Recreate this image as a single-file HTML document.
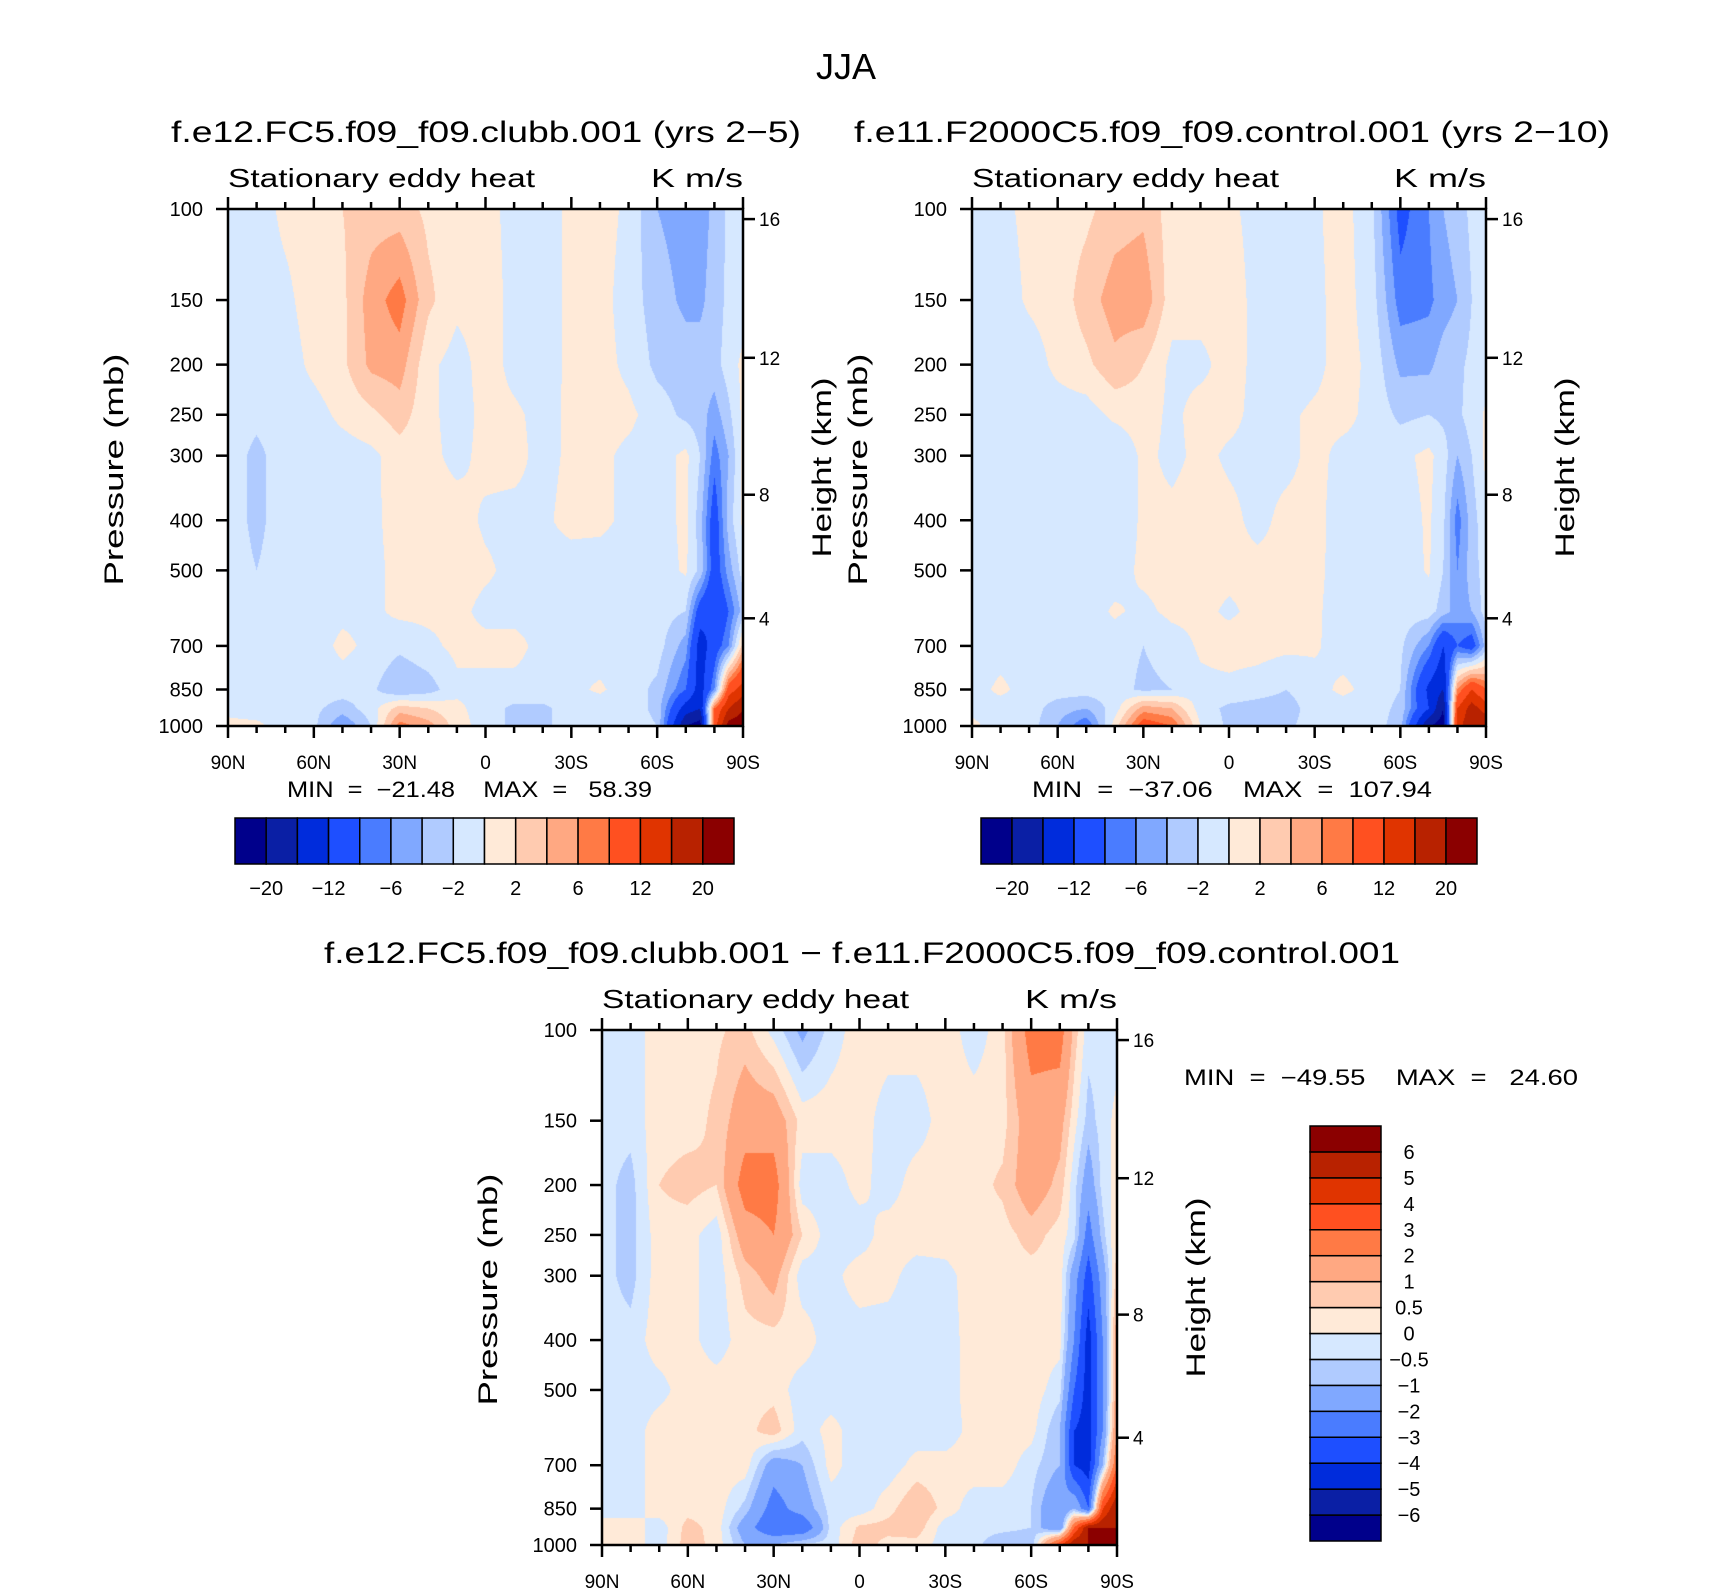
<!DOCTYPE html>
<html><head><meta charset="utf-8">
<style>
html,body{margin:0;padding:0;background:#fff;}
#root{position:relative;width:1710px;height:1591px;overflow:hidden;background:#fff;}
canvas{position:absolute;}
svg{position:absolute;left:0;top:0;}
text{font-family:"Liberation Sans",sans-serif;fill:#000;white-space:pre;}
</style></head>
<body>
<div id="root">
<canvas id="c1"></canvas>
<canvas id="c2"></canvas>
<canvas id="c3"></canvas>
<svg id="s" width="1710" height="1591"></svg>
</div>
<script>
// ---- data ----
const lats=[90,80,70,60,50,40,30,20,10,0,-10,-20,-30,-40,-50,-60,-70,-75,-80,-85,-90];
const pres=[100,150,200,250,300,400,500,600,700,850,925,1000];
const field1=[
[-1,-1,0.5,1,2,3,3,1.5,1,0.5,-0.5,-1,0.5,1,-0.5,-4,-5,-5,-3.5,-1.5,-1],
[-1,-1,-0.5,1,1.5,5,7,2.5,0.5,0.8,-0.5,-1,0.5,0.8,-1,-3,-4.5,-4.5,-3,-1.5,-1],
[-1,-1,-1,0.5,1.5,4.5,5,0.5,-0.8,0.8,-0.5,-1,0.5,0.8,-0.5,-2.5,-3,-3,-2.8,-1,0.5],
[-1,-1.5,-1,-0.8,0.5,1.5,3,0.5,-0.8,0.5,0.3,-0.5,0.3,0.8,0.5,-1,-2.5,-3,-5,-2.5,0.5],
[-1,-2.5,-1,-1,-1,-0.5,1,0.5,-0.5,0.5,0.5,-0.5,0.3,0.5,-0.5,-1,0.5,-2,-7,-4,0.5],
[-1,-2.5,-1,-1,-1,-0.5,0.8,0.8,0.8,-0.3,-0.5,-0.3,0.5,0.5,-0.5,-1,0.5,-3,-10,-3,0.5],
[-1,-2,-1,-1,-1,-0.5,0.5,0.8,0.8,0.3,-0.5,-0.5,-0.8,-1,-1,-1,0.3,-2.5,-10,-5,-1],
[-1,-1.5,-1,-1,-0.5,-0.5,0.5,0.5,0.5,-0.5,-0.5,-0.5,-1,-1,-1,-1,-2,-10,-12,-8,-3],
[-1,-1,-1,-1,0.5,-0.5,-1.5,-0.5,0.5,0.5,0.5,-0.5,-0.5,-1,-1,-1,-5,-14,-10,-6,3],
[-1,-1,-1,-1,-1,-1.5,-4,-3,-0.5,-0.5,-0.5,-0.5,-0.5,0.3,-1,-2.5,-8,-14,-6,10,14],
[-0.5,-1,-1,-1.5,-3,-1,3,2,0.5,-1,-2.5,-2.5,-1,-1,-1,-2.5,-14,-16,8,16,20],
[0.5,0.5,-1,-1.5,-6,-2,7,5,1,-1,-2.5,-2.5,-1,-1,-1,-2,-20,-22,10,22,22]];
const field2=[
[-1,-0.5,0.5,1,1.5,3,3.5,1,1,0.3,-0.5,-1,-0.3,0.8,-1.5,-9,-6,-4,-3,-1.5,-1],
[-1,-1,0.3,0.8,3,5,5.5,0.8,0.8,0.8,-0.5,-1,-0.5,0.8,-1,-7,-6.5,-5,-4,-2,-1],
[-1,-1,-1,0.5,1.5,3.5,2,-0.5,-0.5,0.8,-0.5,-1,-0.5,0.8,-0.5,-4.5,-4.5,-3,-2.5,-1.5,-0.8],
[-1,-1,-1,-1,-1,0.5,1,-0.5,0.8,0.5,-0.5,-0.3,0.3,0.5,-0.5,-2.5,-2,-2.5,-2.5,-1,0.3],
[-1,-2,-1,-1,-1,-2,0.5,-0.5,0.5,-0.3,-0.5,-0.5,0.5,-0.5,-0.5,-0.5,0.5,-1,-4,-2,0.5],
[-1,-2,-1,-1,-1,-2,0.5,0.5,0.8,0.5,-0.5,0.5,0.5,-0.8,-1,-1,0.3,-1.5,-7,-3,-0.5],
[-1,-2,-1,-1,-1,-1,0.5,0.8,0.8,0.5,0.5,0.5,0.3,-0.5,-1,-1,0.2,-2,-6,-3,-1],
[-1,-1,-1,-1,-1,0.3,-0.5,0.5,0.5,-0.3,0.5,0.5,0.3,-0.8,-1,-1,-1,-3,-5,-4,-1],
[-1,-1,-1,-1,-1,-1,-2,-1,0.3,0.8,0.8,0.5,0.3,-1,-1,-1.5,-6,-12,-8,-10,-3],
[-1,0.5,-1,-1,-1,-1,-2.5,-2,-0.5,-0.5,-1,-2,-0.8,0.5,-0.8,-2,-13,-16,6,12,8],
[-0.5,-1,-1,-3,-4,-1,5,4,-1,-2.5,-3,-3,-1,-1,-1,-2.5,-12,-20,12,18,14],
[0.5,-1,-1,-4,-8,1,10,8,0,-2.5,-2.5,-2.5,-1,-1,-1,-3,-20,-22,14,20,20]];
const field3=[
[-0.3,-0.3,0.3,0.3,0.4,0.7,-0.2,-1.2,-0.3,0.3,0.3,0.3,0.3,-0.3,0.3,2.5,2.5,0.8,-0.3,-0.3,-0.3],
[-0.3,-0.3,0.3,0.3,0.6,1.5,1.5,0.3,0.3,0.3,-0.3,-0.3,0.3,0.3,0.3,1.5,1.3,0.2,-0.7,-0.3,0.2],
[-0.3,-0.7,0.5,0.7,0.5,2.5,2.5,-0.3,-0.3,0.2,-0.3,0.3,0.3,0.3,0.6,1.5,0.8,-0.3,-1.5,-0.3,0.2],
[-0.3,-0.7,0.3,0.2,-0.3,1.5,2,0.5,-0.3,-0.3,0.3,0.3,0.3,0.3,0.3,0.7,0.3,-0.3,-2.5,-0.7,0.5],
[-0.3,-0.7,0.3,0.2,-0.3,0.7,1.3,-0.3,-0.2,0.3,0.2,-0.3,-0.2,0.3,0.3,0.3,0.3,-1.5,-3.5,-1.5,0.8],
[-0.3,-0.3,0.3,0.2,-0.3,0.3,0.3,0.3,-0.3,-0.3,-0.3,-0.3,-0.3,0.3,0.3,0.3,0.2,-2,-4.5,-2,1.5],
[-0.3,-0.3,-0.2,0.3,0.3,0.3,0.3,-0.3,-0.3,-0.3,-0.3,-0.5,-0.3,0.3,0.3,0.3,-0.3,-3,-4.5,-2,1.5],
[-0.3,-0.3,0.3,0.3,0.3,0.3,0.8,-0.3,0.2,-0.3,-0.3,-0.3,-0.3,0.2,0.3,0.2,-1,-4,-4.5,-2,2],
[-0.3,-0.3,0.3,0.3,0.3,0.3,-1.5,-1,0.2,-0.3,-0.3,0.2,0.2,0.3,0.3,-0.3,-1,-4,-4.5,-1,3],
[-0.3,-0.3,0.3,0.3,0.3,-0.7,-2.5,-1.5,-0.3,-0.3,0.3,1,0.3,-0.3,-0.3,-0.5,-2,-1,-3,4,6],
[0.3,0.3,-0.3,0.7,0.3,-1.5,-3,-3,-0.3,0.6,0.7,0.8,-0.3,-0.3,-0.3,-0.5,-2,3,6,6,6],
[0.3,0.3,-0.3,0.8,0.3,-1,-1,-0.3,-0.3,0.8,0.3,0.3,-0.3,-0.3,-1,-1,4,6,6,6,6]];
const levelsAbs=[-20,-16,-12,-8,-6,-4,-2,0,2,4,6,8,12,16,20];
const levelsDiff=[-6,-5,-4,-3,-2,-1,-0.5,0,0.5,1,2,3,4,5,6];
const labelsAbs=["−20","−12","−6","−2","2","6","12","20"];
const labelsDiff=["−6","−5","−4","−3","−2","−1","−0.5","0","0.5","1","2","3","4","5","6"];
const colors=["#00008b","#0a1fa5","#002cdc","#1e4fff","#4a7cff","#80a8ff","#b0cbff","#d6e8ff","#ffead8","#ffcbb0","#ffa882","#ff7a45","#ff5020","#e03400","#b82200","#8b0000"];
const pTicks=[100,150,200,250,300,400,500,700,850,1000];
const latTicks=[90,60,30,0,-30,-60,-90];
const latLabels=["90N","60N","30N","0","30S","60S","90S"];
const hTicks=[16,12,8,4];
const hTickP=[104.6,194,357,619];

// ---- helpers ----
const NS="http://www.w3.org/2000/svg";
const svg=document.getElementById('s');
function el(tag,attrs,txt){const e=document.createElementNS(NS,tag);for(const k in attrs)e.setAttribute(k,attrs[k]);if(txt!==undefined)e.textContent=txt;svg.appendChild(e);return e;}
function hex(c){return [parseInt(c.substr(1,2),16),parseInt(c.substr(3,2),16),parseInt(c.substr(5,2),16)];}
const rgb=colors.map(hex);
function bin(v,lv){let i=0;while(i<lv.length&&v>=lv[i])i++;return i;}
const logP=pres.map(p=>Math.log10(p));

function drawField(id,field,lv,L,T,R,B){
  const c=document.getElementById(id);const W=R-L,H=B-T;
  c.width=W;c.height=H;c.style.left=L+'px';c.style.top=T+'px';
  const ctx=c.getContext('2d');const img=ctx.createImageData(W,H);
  for(let j=0;j<H;j++){
    const lp=2+(j+0.5)/H;
    let r=0;while(r<pres.length-2&&lp>logP[r+1])r++;
    const fy=Math.min(1,Math.max(0,(lp-logP[r])/(logP[r+1]-logP[r])));
    for(let i=0;i<W;i++){
      const lat=90-180*(i+0.5)/W;
      let k=0;while(k<lats.length-2&&lat<lats[k+1])k++;
      const fx=Math.min(1,Math.max(0,(lats[k]-lat)/(lats[k]-lats[k+1])));
      const v=(field[r][k]*(1-fx)+field[r][k+1]*fx)*(1-fy)+(field[r+1][k]*(1-fx)+field[r+1][k+1]*fx)*fy;
      const col=rgb[bin(v,lv)];const o=(j*W+i)*4;
      img.data[o]=col[0];img.data[o+1]=col[1];img.data[o+2]=col[2];img.data[o+3]=255;
    }
  }
  ctx.putImageData(img,0,0);
}

function axes(name,L,T,R,B){
  const W=R-L,H=B-T;
  const xOf=lat=>L+(90-lat)/180*W;
  const yOf=p=>T+Math.log10(p/100)*H;
  for(let lat=90;lat>=-90;lat-=10){
    const major=lat%30===0;const len=major?12:7;const x=xOf(lat);
    const t1=el('line',{x1:x,y1:B,x2:x,y2:B+len,stroke:'#000','stroke-width':2.5});
    
    const t2=el('line',{x1:x,y1:T,x2:x,y2:T-len,stroke:'#000','stroke-width':2.5});
    
  }
  latTicks.forEach((lat,i)=>{
    const t=el('text',{x:xOf(lat),y:B+43,'font-size':19,'text-anchor':'middle'},latLabels[i]);
    
  });
  pTicks.forEach(p=>{
    const y=yOf(p);
    const t=el('line',{x1:L-12,y1:y,x2:L,y2:y,stroke:'#000','stroke-width':2.5});
    
    const l=el('text',{x:L-25,y:y+7,'font-size':20,'text-anchor':'end'},String(p));
    
  });
  hTicks.forEach((h,i)=>{
    const y=yOf(hTickP[i]);
    const t=el('line',{x1:R,y1:y,x2:R+12,y2:y,stroke:'#000','stroke-width':2.5});
    
    const l=el('text',{x:R+16,y:y+7,'font-size':19},String(h));
    
  });
  const f=el('rect',{x:L,y:T,width:W,height:H,fill:'none',stroke:'#000','stroke-width':2.5});
  
}

function txt(name,x,y,s,size,anchor,len,rot){
  const a={x:x,y:y,'font-size':size};if(anchor)a['text-anchor']=anchor;
  if(len){a.textLength=len;a.lengthAdjust='spacingAndGlyphs';}
  if(rot)a.transform='rotate(-90 '+x+' '+y+')';
  const t=el('text',a,s);return t;
}

function hbar(name,L,T,R,B,labels){
  const n=colors.length;const w=(R-L)/n;
  colors.forEach((c,i)=>{
    const r=el('rect',{x:L+i*w,y:T,width:w,height:B-T,fill:c,stroke:'#000','stroke-width':1.5});
    
  });
  labels.forEach((s,i)=>{
    const t=el('text',{x:L+(2*i+1)*w,y:B+31,'font-size':20,'text-anchor':'middle'},s);
    
  });
}
function vbar(name,L,T,R,B,labels){
  const n=colors.length;const h=(B-T)/n;
  colors.forEach((c,i)=>{
    const r=el('rect',{x:L,y:B-(i+1)*h,width:R-L,height:h,fill:c,stroke:'#000','stroke-width':1.5});
    
  });
  labels.forEach((s,i)=>{
    const t=el('text',{x:R+28,y:B-(i+1)*h+7,'font-size':20,'text-anchor':'middle'},s);
    
  });
}

// ---- panels ----
const P1=[228,209,743,726],P2=[972,209,1486,726],P3=[602,1030,1117,1545];
drawField('c1',field1,levelsAbs,P1[0],P1[1],P1[2],P1[3]);
drawField('c2',field2,levelsAbs,P2[0],P2[1],P2[2],P2[3]);
drawField('c3',field3,levelsDiff,P3[0],P3[1],P3[2],P3[3]);
axes('panel1',...P1);axes('panel2',...P2);axes('panel3',...P3);

txt('figure-title',846,79,'JJA',36,'middle');
txt('panel1-title',486,142,'f.e12.FC5.f09_f09.clubb.001 (yrs 2−5)',30,'middle',630);
txt('panel2-title',1232,142,'f.e11.F2000C5.f09_f09.control.001 (yrs 2−10)',30,'middle',756);
txt('panel3-title',862,963,'f.e12.FC5.f09_f09.clubb.001 − f.e11.F2000C5.f09_f09.control.001',30,'middle',1076);
[[P1,'panel1'],[P2,'panel2'],[P3,'panel3']].forEach(([P,n])=>{
  txt(n+'-variable-label',P[0],P[1]-22,'Stationary eddy heat',26,null,307);
  txt(n+'-units-label',P[2],P[1]-22,'K m/s',26,'end',92);
  txt(n+'-y-axis-title',P[0]-105,(P[1]+P[3])/2+2,'Pressure (mb)',27,'middle',232,true);
  txt(n+'-height-axis-title',P[2]+88,(P[1]+P[3])/2,'Height (km)',27,'middle',180,true);
});
txt('panel1-minmax',287,797,'MIN  =  −21.48    MAX  =   58.39',22,null,365);
txt('panel2-minmax',1032,797,'MIN  =  −37.06    MAX  =  107.94',22,null,400);
txt('panel3-minmax',1184,1085,'MIN  =  −49.55    MAX  =   24.60',22,null,394);
hbar('colorbar1',235,818,734,864,labelsAbs);
hbar('colorbar2',981,818,1477,864,labelsAbs);
vbar('colorbar3',1310,1126,1381,1541,labelsDiff);
</script>
</body></html>
